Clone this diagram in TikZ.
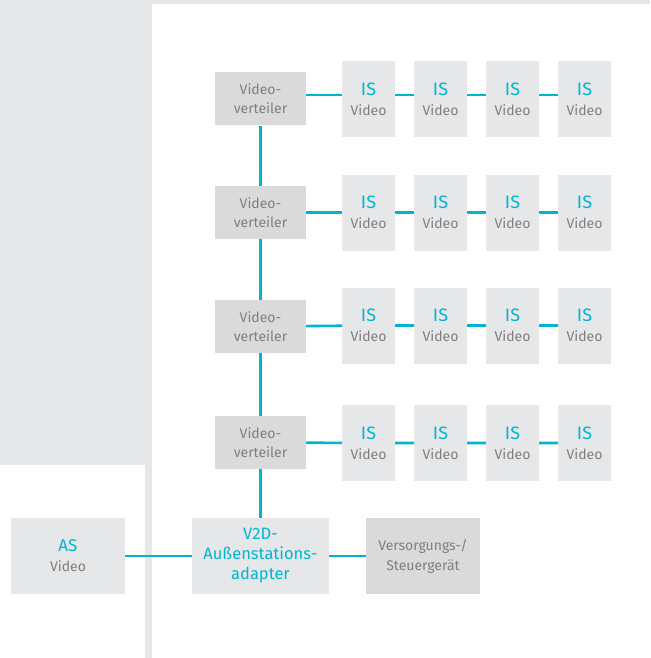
\documentclass[tikz,border=0pt]{standalone}
\usepackage{fontspec}
\setmainfont{Fira Sans}
\usepackage{tikz}
\definecolor{panelgray}{HTML}{E6E7E9}
\definecolor{boxgray}{HTML}{DADADA}
\definecolor{textgray}{HTML}{7F7F7F}
\definecolor{linecyan}{HTML}{00B5D3}
\newcommand{\isvid}{{\color{linecyan}\fontsize{18}{20}\selectfont IS}\\Video}

\begin{document}
\begin{tikzpicture}[x=1pt,y=-1pt]
  \tikzstyle{dev} = [rectangle, fill=panelgray, text=textgray, inner sep=0pt, align=center, font=\fontsize{14}{20}\selectfont]
  \tikzstyle{isbox} = [dev, minimum width=53, minimum height=76]
  \tikzstyle{vvbox} = [dev, fill=boxgray, minimum width=91, minimum height=53, font=\fontsize{14}{19}\selectfont]
  \tikzstyle{link} = [draw=linecyan, line width=2.6pt]
  \useasboundingbox (0,0) rectangle (650,658);

  % panels
  \fill[panelgray] (0,0) rectangle (650,658);
  \fill[white] (152,4) rectangle (650,658);
  \fill[white] (0,465) rectangle (145,658);

  \node[vvbox] (V1) at (260.5,99) {Video-\\verteiler};
  \node[vvbox] (V2) at (260.5,212.5) {Video-\\verteiler};
  \node[vvbox] (V3) at (260.5,326.5) {Video-\\verteiler};
  \node[vvbox] (V4) at (260.5,442.5) {Video-\\verteiler};

  \node[isbox] (I11) at (368.5,99) {\isvid};
  \node[isbox] (I12) at (440.5,99) {\isvid};
  \node[isbox] (I13) at (512.5,99) {\isvid};
  \node[isbox] (I14) at (584.5,99) {\isvid};
  \node[isbox] (I21) at (368.5,212.5) {\isvid};
  \node[isbox] (I22) at (440.5,212.5) {\isvid};
  \node[isbox] (I23) at (512.5,212.5) {\isvid};
  \node[isbox] (I24) at (584.5,212.5) {\isvid};
  \node[isbox] (I31) at (368.5,325.5) {\isvid};
  \node[isbox] (I32) at (440.5,325.5) {\isvid};
  \node[isbox] (I33) at (512.5,325.5) {\isvid};
  \node[isbox] (I34) at (584.5,325.5) {\isvid};
  \node[isbox] (I41) at (368.5,443) {\isvid};
  \node[isbox] (I42) at (440.5,443) {\isvid};
  \node[isbox] (I43) at (512.5,443) {\isvid};
  \node[isbox] (I44) at (584.5,443) {\isvid};

  \node[dev, minimum width=114, minimum height=76] (AS) at (68,556) {{\color{linecyan}\fontsize{17}{20}\selectfont AS}\\Video};
  \node[dev, text=linecyan, minimum width=137, minimum height=76, font=\fontsize{16.5}{20}\selectfont] (Adp) at (260.5,556) {V2D-\\Außenstations-\\adapter};
  \node[dev, fill=boxgray, minimum width=114, minimum height=76] (Vsg) at (423,556) {Versorgungs-/\\Steuergerät};

  \draw[link] (V1) -- (V2) -- (V3) -- (V4) -- (Adp);
  \draw[link] (AS) -- (Adp);
  \draw[link] (Adp) -- (Vsg);

  \draw[link] ([yshift=4pt]V1.east) -- ([yshift=4pt]I11.west);
  \draw[link] ([yshift=4pt]I11.east) -- ([yshift=4pt]I12.west);
  \draw[link] ([yshift=4pt]I12.east) -- ([yshift=4pt]I13.west);
  \draw[link] ([yshift=4pt]I13.east) -- ([yshift=4pt]I14.west);
  \draw[link] (V2) -- (I21) -- (I22) -- (I23) -- (I24);
  \draw[link] (V3) -- (I31) -- (I32) -- (I33) -- (I34);
  \draw[link] (V4) -- (I41) -- (I42) -- (I43) -- (I44);
\end{tikzpicture}
\end{document}
